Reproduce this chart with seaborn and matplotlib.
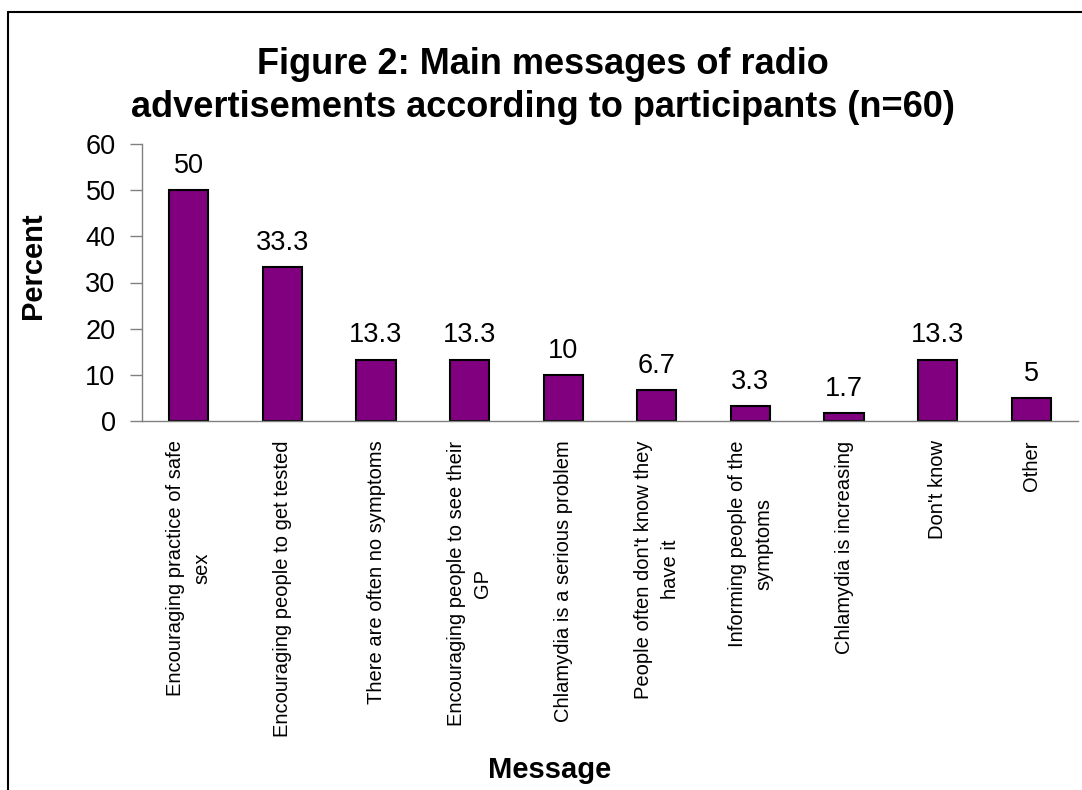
import matplotlib
matplotlib.use("Agg")
import matplotlib.pyplot as plt
from matplotlib.lines import Line2D
import seaborn as sns
import pandas as pd

categories = [
    "Encouraging practice of safe\nsex",
    "Encouraging people to get tested",
    "There are often no symptoms",
    "Encouraging people to see their\nGP",
    "Chlamydia is a serious problem",
    "People often don't know they\nhave it",
    "Informing people of the\nsymptoms",
    "Chlamydia is increasing",
    "Don't know",
    "Other",
]
values = [50, 33.3, 13.3, 13.3, 10, 6.7, 3.3, 1.7, 13.3, 5]
value_labels = ["50", "33.3", "13.3", "13.3", "10", "6.7", "3.3", "1.7", "13.3", "5"]
yticks = [0, 10, 20, 30, 40, 50, 60]
title_lines = ["Figure 2: Main messages of radio",
               "advertisements according to participants (n=60)"]

sns.set_theme(style="white")
plt.rcParams['font.family'] = ['Liberation Sans', 'DejaVu Sans']
plt.rcParams['text.color'] = 'black'
plt.rcParams['xtick.color'] = '#808080'
plt.rcParams['ytick.color'] = '#808080'
plt.rcParams['xtick.labelcolor'] = 'black'
plt.rcParams['ytick.labelcolor'] = 'black'

W, H = 1082, 790
fig = plt.figure(figsize=(W / 100, H / 100), dpi=100)
ax = fig.add_axes([142 / W, 1 - 421 / H, (1078 - 142) / W, (421 - 144) / H])

df = pd.DataFrame({"Message": categories, "Percent": values})
sns.barplot(data=df, x="Message", y="Percent", order=categories, color="#800080",
            edgecolor="black", linewidth=1.5, width=0.42, saturation=1, ax=ax)

ax.set_xlim(-0.5, len(categories) - 0.5)
ax.set_ylim(0, 60)
ax.set_yticks(yticks)
ax.set_yticklabels([str(t) for t in yticks], fontsize=19.5, color="black")
ax.set_xticks(range(len(categories)))
ax.set_xticklabels(categories, rotation=90, fontsize=14.5, ha="center", va="top",
                   multialignment="center", linespacing=1.5, color="black")
ax.set_xticks([i - 0.5 for i in range(len(categories) + 1)], minor=True)
ax.tick_params(axis="x", which="major", length=0, pad=14)
ax.tick_params(axis="x", which="minor", length=6, width=1, color="#808080", direction="out")
ax.tick_params(axis="y", length=9, width=1, color="#808080", direction="out", pad=10, left=True)

for side in ["top", "right"]:
    ax.spines[side].set_visible(False)
for side in ["left", "bottom"]:
    ax.spines[side].set_color("#808080")
    ax.spines[side].set_linewidth(1)

ax.bar_label(ax.containers[0], labels=value_labels, padding=8, fontsize=19.5, color="black")
ax.set_xlabel("")
ax.set_ylabel("")

fig.text(543 / W, 1 - 74 / H, title_lines[0], ha="center", va="baseline", fontsize=26,
         fontweight="bold", color="black")
fig.text(543 / W, 1 - 117 / H, title_lines[1], ha="center", va="baseline", fontsize=26,
         fontweight="bold", color="black")
fig.text(33 / W, 1 - 266 / H, "Percent", rotation=90, ha="center", va="center",
         fontsize=21, fontweight="bold", color="black")
fig.text(550 / W, 1 - 778 / H, "Message", ha="center", va="baseline",
         fontsize=21, fontweight="bold", color="black")

fig.add_artist(Line2D([8 / W, 8 / W], [0, 1 - 12 / H], transform=fig.transFigure,
                      color="black", linewidth=1.5))
fig.add_artist(Line2D([8 / W, 1], [1 - 12 / H, 1 - 12 / H], transform=fig.transFigure,
                      color="black", linewidth=1.5))

fig.savefig("out.png", dpi=100, facecolor="white")
